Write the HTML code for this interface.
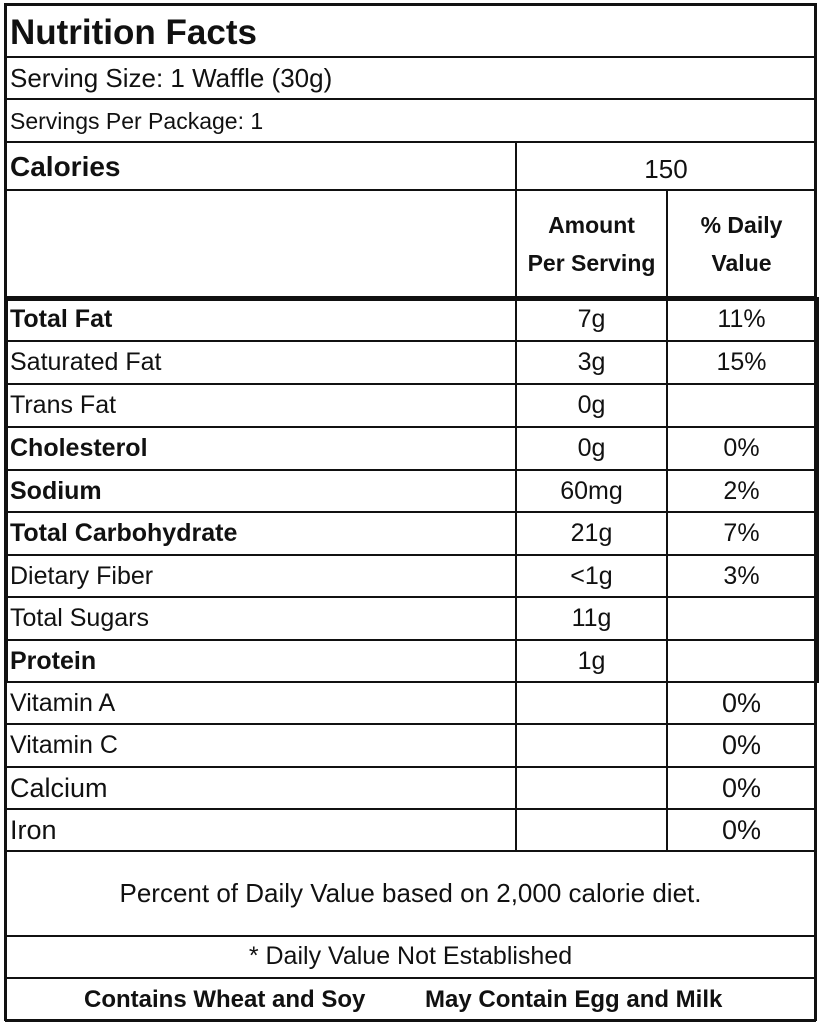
<!DOCTYPE html>
<html><head><meta charset="utf-8"><style>
body{margin:0;width:821px;height:1024px;background:#fff;position:relative;overflow:hidden;font-family:"Liberation Sans",sans-serif;color:#111}
.h{position:absolute;left:5px;width:811px;height:2px;background:#111}
.v{position:absolute;width:2px;background:#111}
.t{position:absolute;font-size:25px;line-height:42px;white-space:nowrap}
.b{font-weight:bold}
.c{text-align:center}
</style></head><body>
<div class="h" style="top:3px;height:3px"></div>
<div class="v" style="left:4px;top:3px;height:1018px;width:3px"></div>
<div class="v" style="left:814px;top:3px;height:1018px;width:3px"></div>
<div class="h" style="top:1019px;height:3px"></div>
<div class="v" style="left:4px;top:297px;height:386px;width:4px"></div>
<div class="v" style="left:815px;top:297px;height:386px;width:4px"></div>
<div class="h" style="top:296px;height:5px"></div>
<div class="v" style="left:515px;top:142px;height:710px"></div>
<div class="v" style="left:666px;top:190px;height:662px"></div>

<div class="t b" style="left:10px;top:8px;font-size:35px;line-height:49px">Nutrition Facts</div>
<div class="h" style="top:56px"></div>
<div class="t" style="left:10px;top:57px;font-size:26px">Serving Size: 1 Waffle (30g)</div>
<div class="h" style="top:98px"></div>
<div class="t" style="left:10px;top:100px;font-size:23px">Servings Per Package: 1</div>
<div class="h" style="top:141px"></div>
<div class="t b" style="left:10px;top:146px;font-size:28px">Calories</div>
<div class="t c" style="left:517px;width:298px;top:148px;font-size:26px">150</div>
<div class="h" style="top:189px"></div>
<div class="t b c" style="left:517px;width:149px;top:206px;line-height:38px;font-size:23px;white-space:normal">Amount<br>Per Serving</div>
<div class="t b c" style="left:668px;width:147px;top:206px;line-height:38px;font-size:23px;white-space:normal">% Daily<br>Value</div>

<div class="t c" style="left:5px;width:811px;top:872px;font-size:26px">Percent of Daily Value based on 2,000 calorie diet.</div>
<div class="h" style="top:935px"></div>
<div class="t c" style="left:5px;width:811px;top:935px;font-size:25px">* Daily Value Not Established</div>
<div class="h" style="top:977px"></div>
<div class="t b" style="left:84px;top:979px;font-size:24px">Contains Wheat and Soy</div>
<div class="t b" style="left:425px;top:979px;font-size:24px">May Contain Egg and Milk</div>

<script>
const names=["Total Fat","Saturated Fat","Trans Fat","Cholesterol","Sodium","Total Carbohydrate","Dietary Fiber","Total Sugars","Protein","Vitamin A","Vitamin C","Calcium","Iron"];
const bold=[1,0,0,1,1,1,0,0,1,0,0,0,0];
const amounts=["7g","3g","0g","0g","60mg","21g","<1g","11g","1g","","","",""];
const dvs=["11%","15%","","0%","2%","7%","3%","","","0%","0%","0%","0%"];
const tops=[298,341,384,427,470,512,555,597,640,682,724,767,809,851];
const body=document.body;
function mk(cls,style,txt){const d=document.createElement('div');d.className=cls;d.style.cssText=style;if(txt!==undefined)d.textContent=txt;body.appendChild(d);return d;}
names.forEach((n,i)=>{
  const y=tops[i];
  const vit=i>=9;
  const a=mk('t'+(bold[i]?' b':''),'left:10px;top:'+y+'px;'+(vit&&i>=11?'font-size:27px':''),n);
  
  
  const b=mk('t c','left:517px;width:149px;top:'+y+'px',amounts[i]);
  
  
  const c=mk('t c','left:668px;width:147px;top:'+y+'px;'+(vit?'font-size:27px':''),dvs[i]);
  
  
  if(i>0){const l=mk('h','top:'+(y-1)+'px');
  
  }
});
const last=mk('h','top:'+(tops[13]-1)+'px');


</script>
</body></html>
